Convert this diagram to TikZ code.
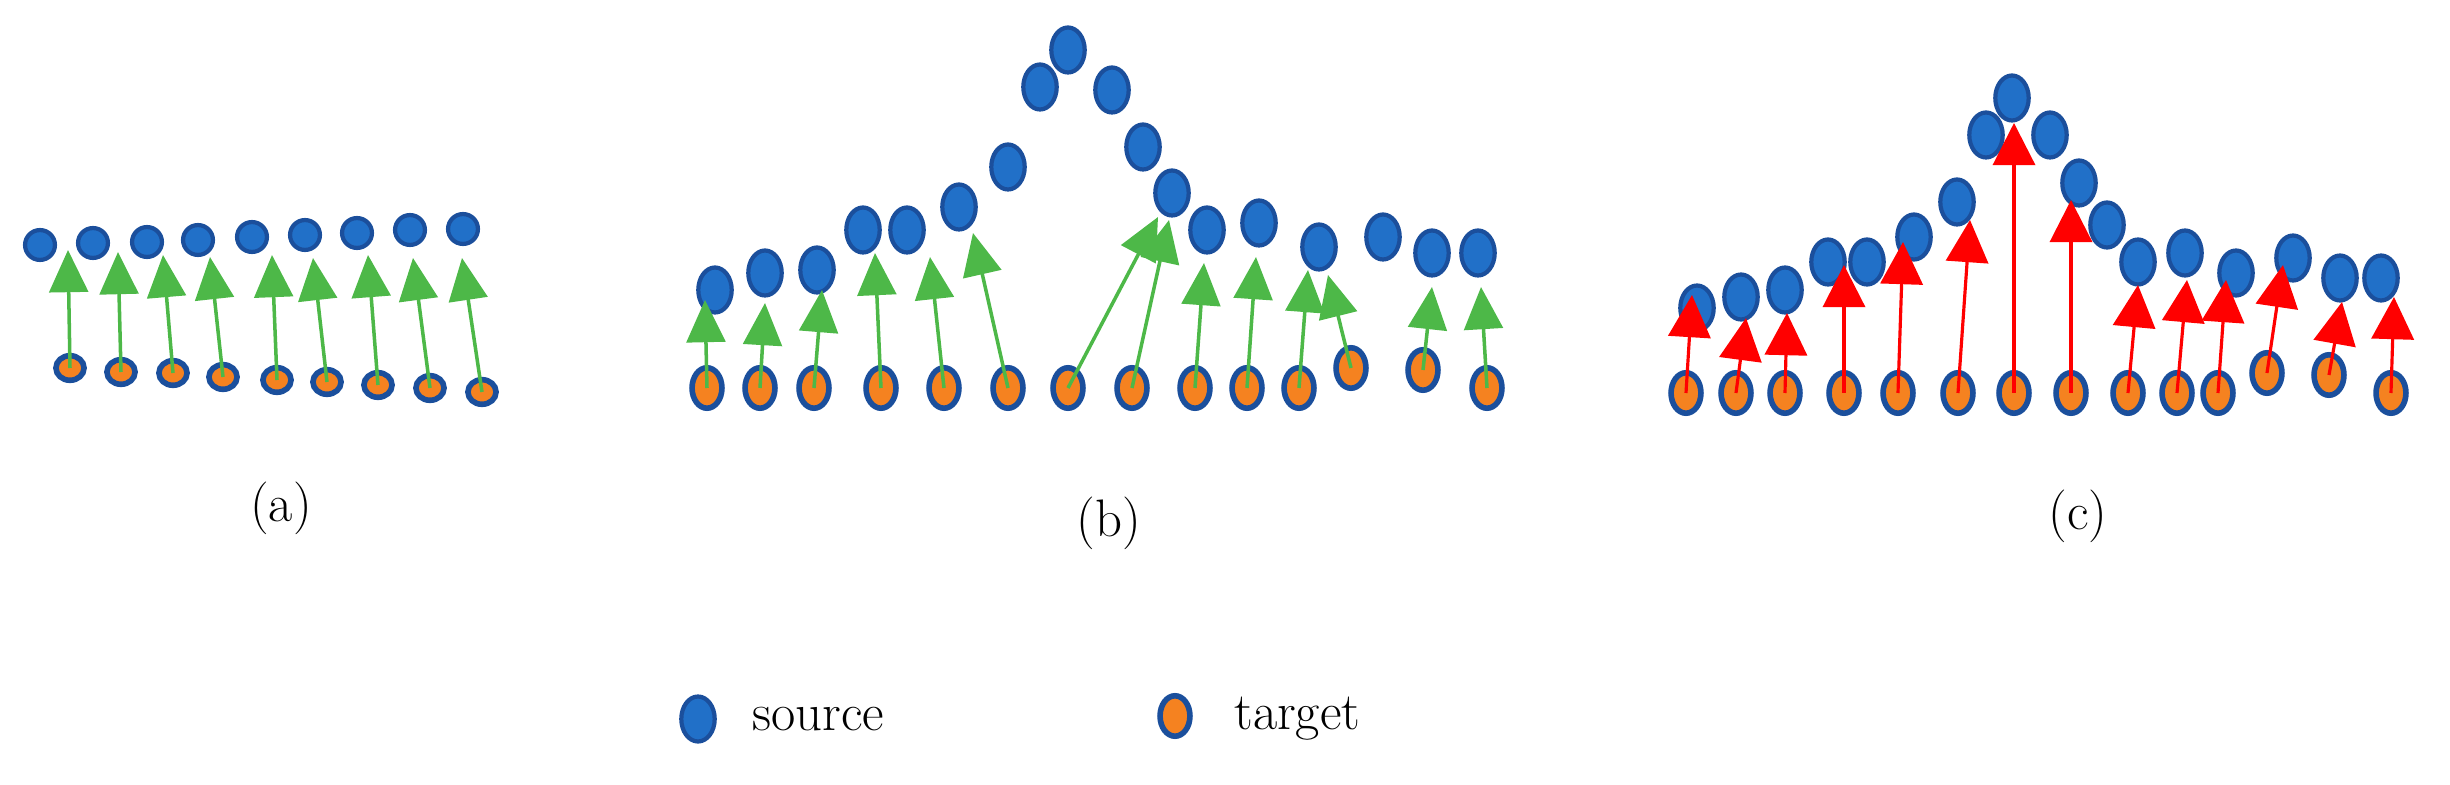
\documentclass[tikz,border=0pt]{standalone}
\usepackage{tikz}
\usetikzlibrary{arrows.meta,shapes.geometric}
\definecolor{srcblue}{HTML}{2170C8}
\definecolor{rimblue}{HTML}{1B4F9C}
\definecolor{tgtorange}{HTML}{F58220}
\definecolor{arrgreen}{HTML}{4DB848}
\begin{document}
\begin{tikzpicture}[
          x=0.01cm,y=-0.01cm,
          src/.style={ellipse,fill=srcblue,draw=rimblue,line width=1.2pt,inner sep=0pt,minimum width=9.5pt,minimum height=12.8pt},
          tgt/.style={ellipse,fill=tgtorange,draw=rimblue,line width=1.6pt,inner sep=0pt,minimum width=8.5pt,minimum height=11.5pt},
          gm/.style={draw=arrgreen,line width=1pt,-{Triangle[length=12pt,width=11pt]}},
          rm/.style={draw=red,line width=0.9pt,-{Triangle[length=12pt,width=12pt]}},
          lbl/.style={font=\fontsize{15}{18}\selectfont}
        ]
        \useasboundingbox (0,0) rectangle (2450,785);

        % (a) 平坦な配置
        \foreach \x/\y [count=\i] in {40/245,93/243,147/242,198/240,252/237,305/235,357/233,410/230,463/229}
          \node[src,minimum width=8.5pt,minimum height=8.5pt] (sa\i) at (\x,\y) {};
        \foreach \x/\y/\u/\v [count=\i] in {70/368/68/250,121/372/118/252,173/373/163/255,223/377/210/257,277/380/272/255,
            327/382/313/258,378/385/368/255,430/388/413/258,482/392/462/258}{
          \node[tgt,minimum width=8pt,minimum height=7pt] (ta\i) at (\x,\y) {};
          \coordinate (pa\i) at (\u,\v);
          \draw[gm] (ta\i.center) -- (pa\i);
        }
        \node[lbl] (capa) at (281,508) {(a)};

        % (b) 山形の配置（緑の矢印）
        \foreach \x/\y [count=\i] in {715/290,765/273,817/270,863/230,907/230,959/207,1008/167,1040/87,1068/50,
            1112/90,1143/147,1172/193,1207/230,1259/223,1319/247,1383/237,1432/253,1478/253}
          \node[src] (sb\i) at (\x,\y) {};
        \foreach \x/\y/\u/\v [count=\i] in {707/388/705/300,760/388/765/303,814/388/822/290,881/388/875/253,
            944/388/930/257,1008/388/973/233,1068/388/1158/217,1132/388/1169/220,1195/388/1204/263,
            1247/388/1256/257,1299/388/1308/270,1351/368/1328/275,1423/370/1432/287,1487/388/1481/287}{
          \node[tgt] (tb\i) at (\x,\y) {};
          \coordinate (pb\i) at (\u,\v);
          \draw[gm] (tb\i.center) -- (pb\i);
        }
        \node[lbl] (capb) at (1109,523) {(b)};

        % (c) 山形の配置（赤の矢印）
        \foreach \x/\y [count=\i] in {1697/308,1741/297,1785/290,1828/262,1867/262,1914/237,1957/202,1986/135,2012/98,
            2050/135,2079/183,2107/225,2138/262,2185/253,2236/273,2293/258,2340/278,2381/278}
          \node[src] (sc\i) at (\x,\y) {};
        \foreach \x/\y/\u/\v [count=\i] in {1686/393/1692/295,1736/393/1746/318,1785/393/1787/313,1844/393/1844/265,
            1898/393/1903/242,1958/393/1970/220,2014/393/2014/123,2071/393/2071/200,2128/393/2138/285,
            2177/393/2187/280,2218/393/2226/280,2267/373/2283/265,2329/375/2342/302,2391/393/2394/297}{
          \node[tgt] (tc\i) at (\x,\y) {};
          \coordinate (pc\i) at (\u,\v);
          \draw[rm] (tc\i.center) -- (pc\i);
        }
        \node[lbl] (capc) at (2078,516) {(c)};

        % 凡例
        \node[src] (legs) at (698,719) {};
        \node[lbl,anchor=west] (legst) at (740,719) {source};
        \node[tgt] (legt) at (1175,716) {};
        \node[lbl,anchor=west] (legtt) at (1222,719) {target};
      \end{tikzpicture}
\end{document}
